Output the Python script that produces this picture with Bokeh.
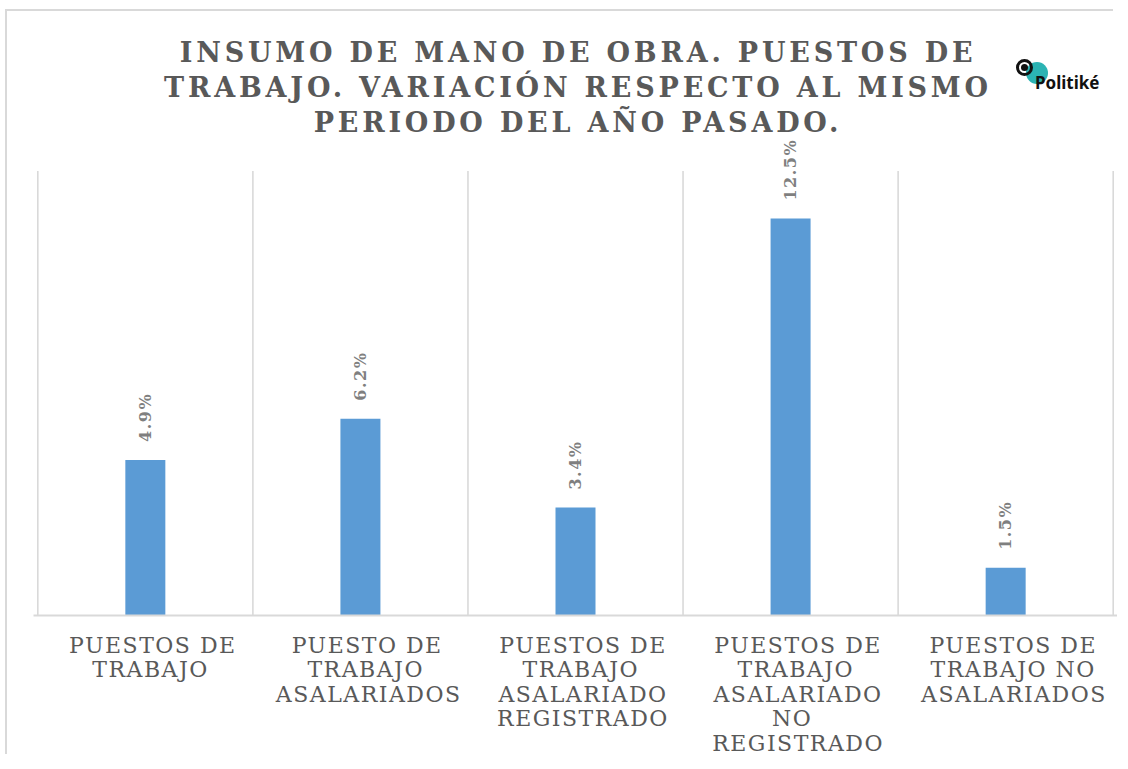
from bokeh.plotting import figure
from bokeh.layouts import column
from bokeh.models import FactorRange, ColumnDataSource, LabelSet, Div
from bokeh.core.properties import value
from bokeh.embed import file_html
from bokeh.resources import INLINE
import math

# ---- data ----
categories = [
    "PUESTOS DE\nTRABAJO",
    "PUESTO DE\nTRABAJO\nASALARIADOS",
    "PUESTOS DE\nTRABAJO\nASALARIADO\nREGISTRADO",
    "PUESTOS DE\nTRABAJO\nASALARIADO\nNO\nREGISTRADO",
    "PUESTOS DE\nTRABAJO NO\nASALARIADOS",
]
values = [4.9, 6.2, 3.4, 12.5, 1.5]
value_labels = ["4.9%", "6.2%", "3.4%", "12.5%", "1.5%"]
title_lines = ["INSUMO DE MANO DE OBRA. PUESTOS DE",
               "TRABAJO. VARIACIÓN RESPECTO AL MISMO",
               "PERIODO DEL AÑO PASADO."]
grid_top = 14          # top of the category separators (axis max of the original)
logo_text = "Politiké"

SERIF = "DejaVu Serif"
GRAY = "#595959"

# ---- header (title + logo + outer frame line) ----
header_html = f"""
<div style="position:relative;width:1112px;height:112px;">
  <div style="position:absolute;left:0px;top:4px;width:1108px;height:745px;
              border-left:2px solid #d9d9d9;border-top:2px solid #d9d9d9;"></div>
  <div style="position:absolute;left:28px;top:30px;width:1090px;text-align:center;
              font-family:'DejaVu Serif';font-weight:bold;font-size:27px;line-height:35px;
              letter-spacing:3.8px;color:{GRAY};white-space:nowrap;">
    {'<br>'.join(title_lines)}
  </div>
  <div style="position:absolute;left:1021px;top:57px;width:22px;height:22px;
              box-sizing:border-box;border-radius:50%;background:#2bb3b3;"></div>
  <div style="position:absolute;left:1011px;top:54px;width:17px;height:17px;
              box-sizing:border-box;border-radius:50%;border:3px solid #111111;"></div>
  <div style="position:absolute;left:1016px;top:59px;width:7px;height:7px;
              box-sizing:border-box;border-radius:50%;background:#111111;"></div>
  <div style="position:absolute;left:1030px;top:69px;font-family:'Noto Sans';font-weight:bold;
              font-size:17px;line-height:17px;letter-spacing:0px;color:#111111;">{logo_text}</div>
</div>
"""
header = Div(text=header_html, width=1112, height=112,
             styles={"overflow": "visible"})

# ---- chart ----
src = ColumnDataSource(dict(cat=categories, val=values, lab=value_labels))

p = figure(
    x_range=FactorRange(*categories, range_padding=0.02, range_padding_units="absolute"),
    y_range=(0, 15.4),
    width=1117, height=639,
    output_backend="svg", toolbar_location=None,
    min_border_left=33, min_border_right=0,
    min_border_top=4, min_border_bottom=146,
    styles={"letter-spacing": "1.5px"},
)
p.outline_line_color = None
p.background_fill_alpha = 0
p.border_fill_alpha = 0
p.xgrid.grid_line_color = None
p.ygrid.grid_line_color = None
p.yaxis.visible = False

# category separators
bounds = list(range(len(categories) + 1))
p.segment(x0=bounds, y0=[0] * len(bounds), x1=bounds, y1=[grid_top] * len(bounds),
          line_color="#d9d9d9", line_width=1.6)

p.vbar(x="cat", top="val", width=0.186, source=src, color="#5b9bd5", line_color=None)

labels = LabelSet(x="cat", y="val", text="lab", source=src, angle=math.pi / 2,
                  text_align="left", text_baseline="middle", y_offset=18,
                  text_font=value(SERIF), text_font_style="bold",
                  text_font_size="16px", text_color="#7f7f7f")
p.add_layout(labels)

p.xaxis.axis_line_color = "#d9d9d9"
p.xaxis.axis_line_width = 2
p.xaxis.major_tick_line_color = None
p.xaxis.minor_tick_line_color = None
p.xaxis.major_label_text_font = SERIF
p.xaxis.major_label_text_font_size = "22px"
p.xaxis.major_label_text_color = GRAY
p.xaxis.major_label_text_line_height = 0.98
p.xaxis.major_label_standoff = 11

layout = column(header, p)
open("out.html", "w").write(file_html(layout, INLINE))
